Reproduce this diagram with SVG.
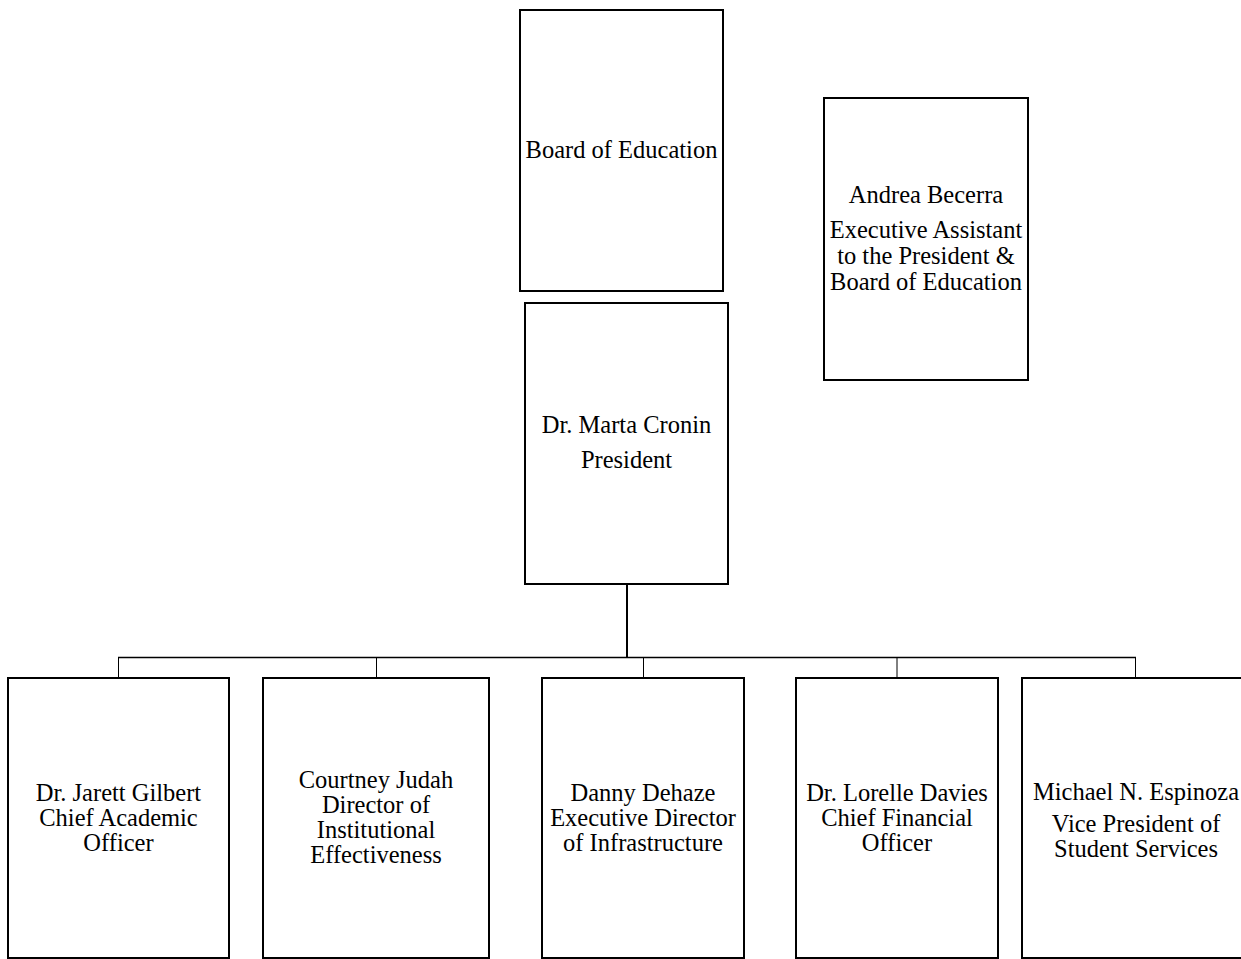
<svg xmlns="http://www.w3.org/2000/svg" width="1241" height="959" viewBox="0 0 1241 959">
<style>
.box{fill:#fff;stroke:#000;stroke-width:2}
.t{font-size:24.5px;fill:#000;text-anchor:middle}
.c{fill:none;stroke:#000}
</style>
<rect width="1241" height="959" fill="#fff"/>
<g id="connectors">
<line class="c" x1="627" y1="584" x2="627" y2="658" stroke-width="2"/>
<line class="c" x1="118" y1="657.5" x2="1136" y2="657.5" stroke-width="1.5"/>
<line class="c" x1="118.5" y1="657" x2="118.5" y2="678" stroke-width="1"/>
<line class="c" x1="376.5" y1="657" x2="376.5" y2="678" stroke-width="1"/>
<line class="c" x1="643.5" y1="657" x2="643.5" y2="678" stroke-width="1"/>
<line class="c" x1="897" y1="657" x2="897" y2="678" stroke-width="1"/>
<line class="c" x1="1135.5" y1="657" x2="1135.5" y2="678" stroke-width="1"/>
</g>
<g font-family="Liberation Serif, Times New Roman, DejaVu Serif, serif">
<g id="board">
<rect class="box" x="520" y="10" width="203" height="281"/>
<text class="t" x="621.5" y="158">Board of Education</text>
</g>
<g id="assistant">
<rect class="box" x="824" y="98" width="204" height="282"/>
<text class="t" x="926" y="203">Andrea Becerra</text>
<text class="t" x="926" y="238">Executive Assistant</text>
<text class="t" x="926" y="264">to the President &amp;</text>
<text class="t" x="926" y="290">Board of Education</text>
</g>
<g id="president">
<rect class="box" x="525" y="303" width="203" height="281"/>
<text class="t" x="626.5" y="433">Dr. Marta Cronin</text>
<text class="t" x="626.5" y="468">President</text>
</g>
<g id="cao">
<rect class="box" x="8" y="678" width="221" height="280"/>
<text class="t" x="118.5" y="801">Dr. Jarett Gilbert</text>
<text class="t" x="118.5" y="826">Chief Academic</text>
<text class="t" x="118.5" y="851">Officer</text>
</g>
<g id="ie">
<rect class="box" x="263" y="678" width="226" height="280"/>
<text class="t" x="376" y="788">Courtney Judah</text>
<text class="t" x="376" y="813">Director of</text>
<text class="t" x="376" y="838">Institutional</text>
<text class="t" x="376" y="863">Effectiveness</text>
</g>
<g id="infra">
<rect class="box" x="542" y="678" width="202" height="280"/>
<text class="t" x="643" y="801">Danny Dehaze</text>
<text class="t" x="643" y="826">Executive Director</text>
<text class="t" x="643" y="851">of Infrastructure</text>
</g>
<g id="cfo">
<rect class="box" x="796" y="678" width="202" height="280"/>
<text class="t" x="897" y="801">Dr. Lorelle Davies</text>
<text class="t" x="897" y="826">Chief Financial</text>
<text class="t" x="897" y="851">Officer</text>
</g>
<g id="vpss">
<rect class="box" x="1022" y="678" width="230" height="280"/>
<text class="t" x="1136" y="800">Michael N. Espinoza</text>
<text class="t" x="1136" y="832">Vice President of</text>
<text class="t" x="1136" y="857">Student Services</text>
</g>
</g>
</svg>
